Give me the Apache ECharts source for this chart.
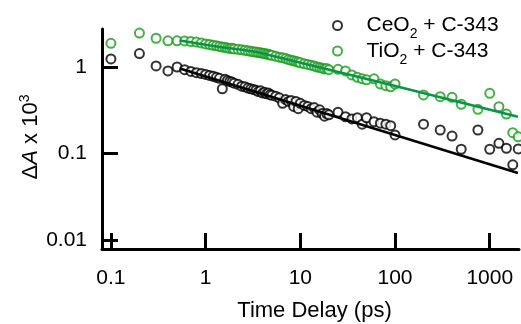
<!DOCTYPE html>
<html>
<head>
<meta charset="utf-8">
<script src="https://cdn.jsdelivr.net/npm/echarts@6/dist/echarts.min.js"></script>
<style>
html,body{margin:0;padding:0;background:#fff;}
#c{width:521px;height:324px;}
</style>
</head>
<body>
<div id="c"></div>
<script>
// Time delays (ps)
const times = [0.1,0.2,0.3,0.4,0.5,0.6,0.7,0.8,0.9,1.0,1.1,1.2,1.3,1.4,1.5,1.6,1.7,1.8,1.9,2.0,
  2.2,2.4,2.6,2.8,3.0,3.2,3.4,3.6,3.8,4.0,4.2,4.4,4.6,4.8,5.0,
  5.5,6,6.5,7,7.5,8,8.5,9,9.5,10,
  11,12,13,14,15,16,17,18,19,20,
  25,30,35,40,45,50,60,70,80,90,100,
  200,300,400,500,750,1000,1250,1500,1750,2000];
// ΔA x 10^3, CeO2 + C-343
const ceo2 = [1.24,1.43,1.03,0.90,1.00,0.93,0.89,0.86,0.84,0.82,0.80,0.78,0.76,0.74,0.56,0.72,0.70,0.68,0.67,0.65,
  0.63,0.60,0.59,0.57,0.56,0.55,0.54,0.52,0.53,0.50,0.51,0.49,0.50,0.48,0.47,
  0.46,0.44,0.38,0.42,0.40,0.41,0.35,0.40,0.33,0.38,
  0.36,0.35,0.33,0.34,0.30,0.32,0.29,0.27,0.29,0.28,
  0.30,0.266,0.251,0.259,0.218,0.259,0.233,0.224,0.218,0.21,0.164,
  0.218,0.187,0.159,0.112,0.187,0.112,0.131,0.115,0.074,0.113];
// ΔA x 10^3, TiO2 + C-343
const tio2 = [1.88,2.47,2.15,2.01,2.01,2.00,1.97,1.94,1.89,1.85,1.82,1.78,1.76,1.73,1.70,1.69,1.66,1.64,1.65,1.62,
  1.60,1.58,1.56,1.54,1.52,1.50,1.49,1.47,1.46,1.44,1.43,1.41,1.40,1.38,1.37,
  1.33,1.30,1.28,1.25,1.22,1.20,1.18,1.16,1.14,1.12,
  1.09,1.07,1.05,1.03,1.00,0.99,0.97,0.95,0.96,0.93,
  0.94,0.90,0.81,0.76,0.73,0.71,0.73,0.636,0.608,0.59,0.636,
  0.475,0.454,0.446,0.371,0.324,0.496,0.348,0.286,0.174,0.156];
// Fit curves
const ceo2FitT = [0.535, 1984];
const ceo2FitA = [0.961, 0.0595];
const tio2FitT = [0.536, 1.415, 3.74, 1984];
const tio2FitA = [2.025, 1.703, 1.463, 0.266];
// Ticks
const xTicks = [0.1, 1, 10, 100, 1000];
const yTicks = [0.01, 0.1, 1];

const FONT = "'Liberation Sans', Arial, sans-serif";
const zip = (a, b) => a.map((v, i) => [v, b[i]]);
const chart = echarts.init(document.getElementById('c'), null, {renderer: 'canvas'});
const axisCommon = {
  axisLine: {show: true, lineStyle: {color: '#000', width: 3}},
  axisTick: {show: true, inside: true, length: 16, lineStyle: {color: '#000', width: 3}},
  splitLine: {show: false},
};
const legendFmt = name => name.replace(/^(\w+)O2(.*)$/, (m, a, b) => '{n|' + a + 'O}{b|2}{n|' + b + '}');
chart.setOption({
  animation: false,
  backgroundColor: '#fff',
  grid: {left: 102, right: 2, top: 29, bottom: 75, containLabel: false, outerBoundsMode: 'none'},
  xAxis: Object.assign({}, axisCommon, {
    type: 'log', min: 0.0805, max: 2037,
    axisTick: Object.assign({}, axisCommon.axisTick, {customValues: xTicks}),
    axisLabel: {customValues: xTicks, formatter: v => String(v), fontFamily: FONT, fontSize: 21, color: '#000', margin: 19},
    name: 'Time Delay (ps)', nameLocation: 'middle', nameGap: 51,
    nameTextStyle: {fontFamily: FONT, fontSize: 22, color: '#000', padding: [0, 0, 0, 8]}
  }),
  yAxis: Object.assign({}, axisCommon, {
    type: 'log', min: 0.00787, max: 2.75,
    axisTick: Object.assign({}, axisCommon.axisTick, {customValues: yTicks}),
    axisLabel: {customValues: yTicks, formatter: v => String(v), fontFamily: FONT, fontSize: 21, color: '#000', margin: 15}
  }),
  graphic: [{
    type: 'text', x: 31, y: 137, rotation: Math.PI / 2,
    style: {
      text: '{n|Δ}{i|A}{n| x 10}{s|3}',
      align: 'center', verticalAlign: 'middle',
      fill: '#000',
      rich: {
        n: {fontFamily: FONT, fontSize: 22, lineHeight: 26, fill: '#000'},
        i: {fontFamily: FONT, fontSize: 22, lineHeight: 26, fontStyle: 'italic', fill: '#000'},
        s: {fontFamily: FONT, fontSize: 14, lineHeight: 26, verticalAlign: 'top', fill: '#000'}
      }
    }
  }],
  legend: {
    orient: 'vertical', left: 327, top: 10, itemWidth: 48, itemHeight: 9, itemGap: -1,
    data: [{name: 'CeO2 + C-343', icon: 'emptyCircle'}, {name: 'TiO2 + C-343', icon: 'emptyCircle'}],
    formatter: legendFmt,
    textStyle: {
      fontFamily: FONT, fontSize: 21, color: '#000',
      rich: {
        n: {fontFamily: FONT, fontSize: 21, lineHeight: 24, color: '#000'},
        b: {fontFamily: FONT, fontSize: 14, lineHeight: 16, verticalAlign: 'bottom', padding: [0, 0, -4, 0], color: '#000'}
      }
    }
  },
  series: [
    {name: 'CeO2 + C-343', type: 'scatter', symbol: 'emptyCircle', symbolSize: 9,
      itemStyle: {color: '#000', borderColor: '#000', borderWidth: 1.4},
      data: zip(times, ceo2), z: 2},
    {name: 'TiO2 + C-343', type: 'scatter', symbol: 'emptyCircle', symbolSize: 9,
      itemStyle: {color: '#1a9a1a', borderColor: '#1a9a1a', borderWidth: 1.5},
      data: zip(times, tio2), z: 2},
    {name: 'CeO2 fit', type: 'line', symbol: 'none', data: zip(ceo2FitT, ceo2FitA),
      lineStyle: {color: '#000', width: 2.5}, z: 3},
    {name: 'TiO2 fit', type: 'line', symbol: 'none', smooth: 0.2, data: zip(tio2FitT, tio2FitA),
      lineStyle: {color: '#079448', width: 2.5}, z: 3}
  ]
});
</script>
</body>
</html>
